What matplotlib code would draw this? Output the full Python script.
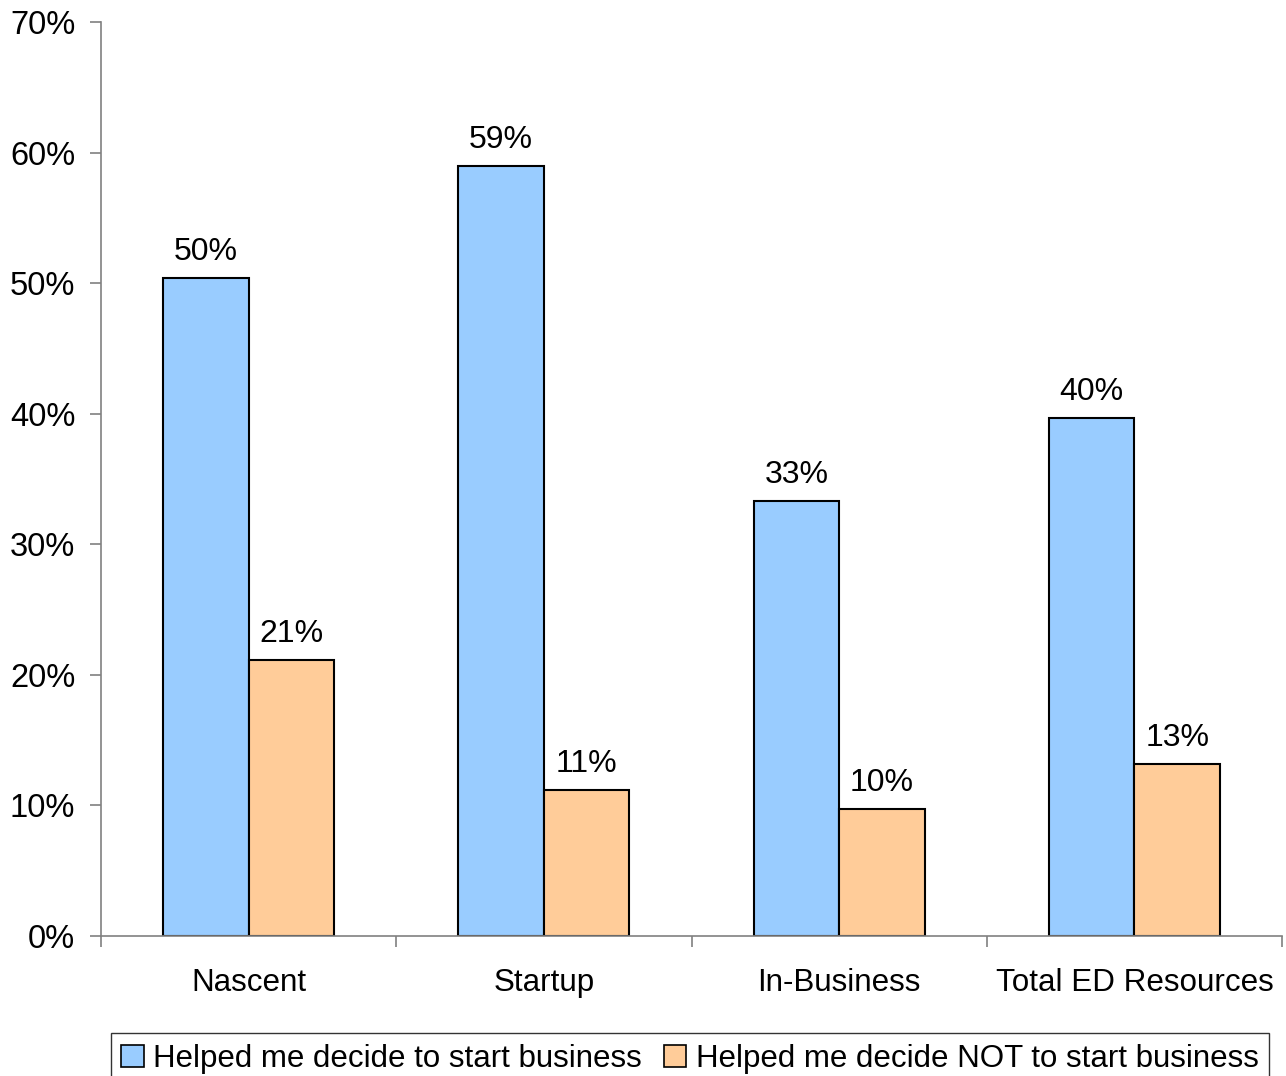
import matplotlib
matplotlib.use("Agg")
import matplotlib.pyplot as plt
import numpy as np
from matplotlib.ticker import FuncFormatter, FixedLocator

plt.rcParams['font.family'] = ['Liberation Sans', 'DejaVu Sans']

categories = ["Nascent", "Startup", "In-Business", "Total ED Resources"]
helped_start = [0.504, 0.590, 0.333, 0.397]
helped_not_start = [0.211, 0.112, 0.097, 0.132]
series_names = ["Helped me decide to start business",
                "Helped me decide NOT to start business"]

blue = "#99CCFF"
orange = "#FFCC99"
axis_grey = "#808080"

fig = plt.figure(figsize=(12.86, 10.76), dpi=100)
ax = fig.add_axes([101/1286, 1 - 936/1076, (1282 - 101)/1286, (936 - 22)/1076])

x = np.arange(len(categories))
w = 0.29
b1 = ax.bar(x - w/2, helped_start, width=w, color=blue, edgecolor="black", linewidth=1.5,
            label=series_names[0])
b2 = ax.bar(x + w/2, helped_not_start, width=w, color=orange, edgecolor="black", linewidth=1.5,
            label=series_names[1])

for bars, vals in ((b1, helped_start), (b2, helped_not_start)):
    for rect, v in zip(bars, vals):
        ax.text(rect.get_x() + rect.get_width()/2, v + 0.0085, f"{round(v*100):d}%",
                ha="center", va="bottom", fontsize=23)

ax.set_xlim(-0.5, len(categories) - 0.5)
ax.set_ylim(0, 0.70)
ax.set_yticks(np.arange(0, 0.71, 0.10))
ax.yaxis.set_major_formatter(FuncFormatter(lambda v, _: f"{v*100:.0f}%"))
ax.xaxis.set_major_locator(FixedLocator(np.arange(-0.5, len(categories), 1.0)))
ax.xaxis.set_major_formatter(FuncFormatter(lambda v, _: ""))
ax.set_xticks(x, minor=True)
ax.set_xticklabels(categories, minor=True)
ax.tick_params(axis="x", which="minor", length=0, pad=23, labelsize=22.6)
ax.tick_params(axis="x", which="major", length=8, width=1.2, color=axis_grey, direction="out")
ax.tick_params(axis="y", length=8, width=1.2, color=axis_grey, direction="out",
               labelsize=23.5, pad=10.5)

for s in ("top", "right"):
    ax.spines[s].set_visible(False)
for s in ("left", "bottom"):
    ax.spines[s].set_color(axis_grey)
    ax.spines[s].set_linewidth(1.2)

leg = fig.legend(handles=[b1, b2], loc="lower center", bbox_to_anchor=(690/1286, -0.022),
                 ncol=2, frameon=True, fancybox=False, fontsize=22.5, handlelength=0.72,
                 handleheight=0.72, handletextpad=0.3, columnspacing=0.7, borderpad=0.33,
                 edgecolor="black")
leg.get_frame().set_linewidth(1.0)
for h in leg.legend_handles:
    h.set_linewidth(1.2)

fig.savefig("out.png", dpi=100)
